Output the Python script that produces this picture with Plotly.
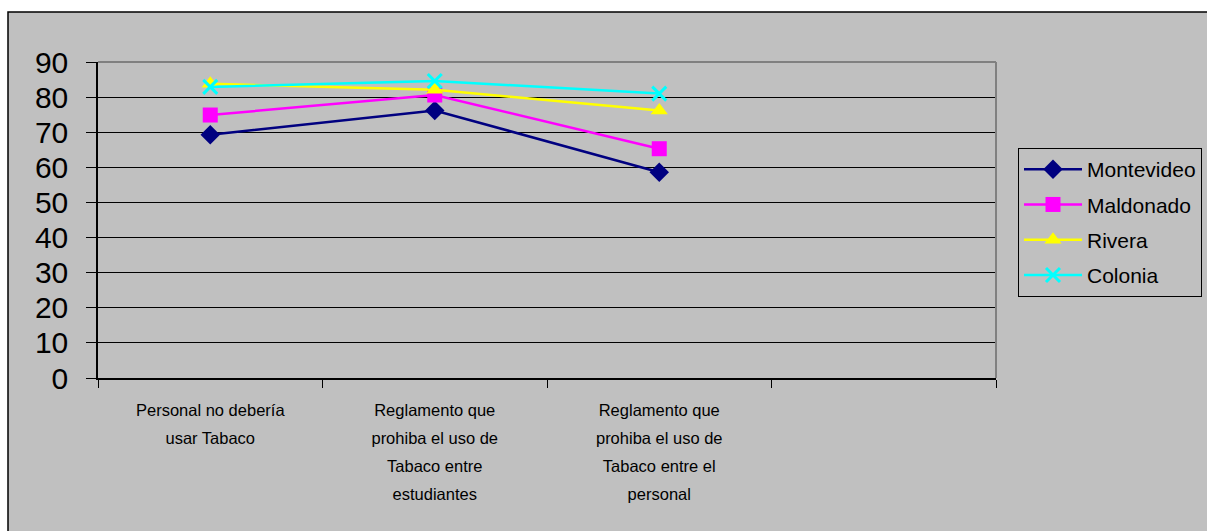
import plotly.graph_objects as go

categories = ["Personal no debería<br>usar Tabaco",
              "Reglamento que<br>prohiba el uso de<br>Tabaco entre<br>estudiantes",
              "Reglamento que<br>prohiba el uso de<br>Tabaco entre el<br>personal",
              " "]
series_names = ["Montevideo", "Maldonado", "Rivera", "Colonia"]
montevideo = [69.3, 76.2, 58.6]
maldonado = [74.9, 80.6, 65.3]
rivera = [83.8, 82.1, 76.2]
colonia = [82.9, 84.6, 81.0]
y_ticks = [0, 10, 20, 30, 40, 50, 60, 70, 80, 90]

values = [montevideo, maldonado, rivera, colonia]
colors = ["#000080", "#FF00FF", "#FFFF00", "#00FFFF"]
symbols = ["diamond", "square", "triangle-up", "x-thin"]
sizes = [15, 15, 15, 14]

# tall line spacing with narrower glyphs, like the original
tick_text = ["<br>".join("<span style='font-size:16.5px'>%s</span>" % ln
                         for ln in c.split("<br>")) for c in categories]

# body margin removed in the page, so figure pixels = page pixels
W, H = 1207, 531
L, R, T, B = 98, 1207 - 996, 62, 531 - 378
pw, ph = W - L - R, H - T - B

def px_x(p):
    return (p - L) / pw

def px_y(p):
    return (H - B - p) / ph

fig = go.Figure()
for name, vals, c, s, sz in zip(series_names, values, colors, symbols, sizes):
    marker = dict(symbol=s, size=sz, color=c)
    if s == "x-thin":
        marker["line"] = dict(color=c, width=3)
    fig.add_trace(go.Scatter(
        x=categories[:len(vals)], y=vals, name=name, mode="lines+markers",
        line=dict(color=c, width=2.5), marker=marker, legendgroup=name,
    ))

fig.update_layout(
    width=W, height=H,
    margin=dict(l=L, r=R, t=T, b=B, autoexpand=False),
    paper_bgcolor="white",
    plot_bgcolor="#C0C0C0",
    font=dict(family="Liberation Sans, Arial, sans-serif", color="black"),
    showlegend=True,
    legend=dict(
        x=px_x(1018), y=px_y(148), xanchor="left", yanchor="top",
        bgcolor="#C0C0C0", bordercolor="black", borderwidth=1,
        font=dict(size=21, family="Liberation Sans, Arial, sans-serif"),
        tracegroupgap=5, itemwidth=58,
    ),
    shapes=[
        dict(type="rect", xref="paper", yref="paper",
             x0=px_x(8), x1=px_x(1240), y0=px_y(570), y1=px_y(12),
             fillcolor="#C0C0C0", line=dict(color="black", width=1.5), layer="below"),
        dict(type="line", xref="paper", yref="paper", x0=0, x1=1, y0=1, y1=1,
             line=dict(color="#808080", width=2), layer="above"),
        dict(type="line", xref="paper", yref="paper", x0=1, x1=1, y0=0, y1=1,
             line=dict(color="#808080", width=2), layer="above"),
    ],
)

fig.update_xaxes(
    type="category", categoryorder="array", categoryarray=categories,
    tickvals=categories, ticktext=tick_text,
    range=[-0.5, 3.5], tickson="boundaries", ticks="outside", ticklen=8,
    tickcolor="black", showline=True, linecolor="black", linewidth=2,
    showgrid=False, zeroline=False,
    tickfont=dict(size=21.5), tickangle=0, ticklabelstandoff=10,
)
fig.update_yaxes(
    range=[0, 90], tickvals=y_ticks, ticks="outside", ticklen=10,
    tickcolor="black", showline=True, linecolor="black", linewidth=1.5,
    showgrid=True, gridcolor="black", gridwidth=1, zeroline=False,
    tickfont=dict(size=30), ticklabelstandoff=12,
)

fig.write_html(
    "out.html",
    config={"displayModeBar": False},
    post_script="document.body.style.margin='0';"
                "document.documentElement.style.overflow='hidden';"
                "document.body.style.overflow='hidden';",
)
